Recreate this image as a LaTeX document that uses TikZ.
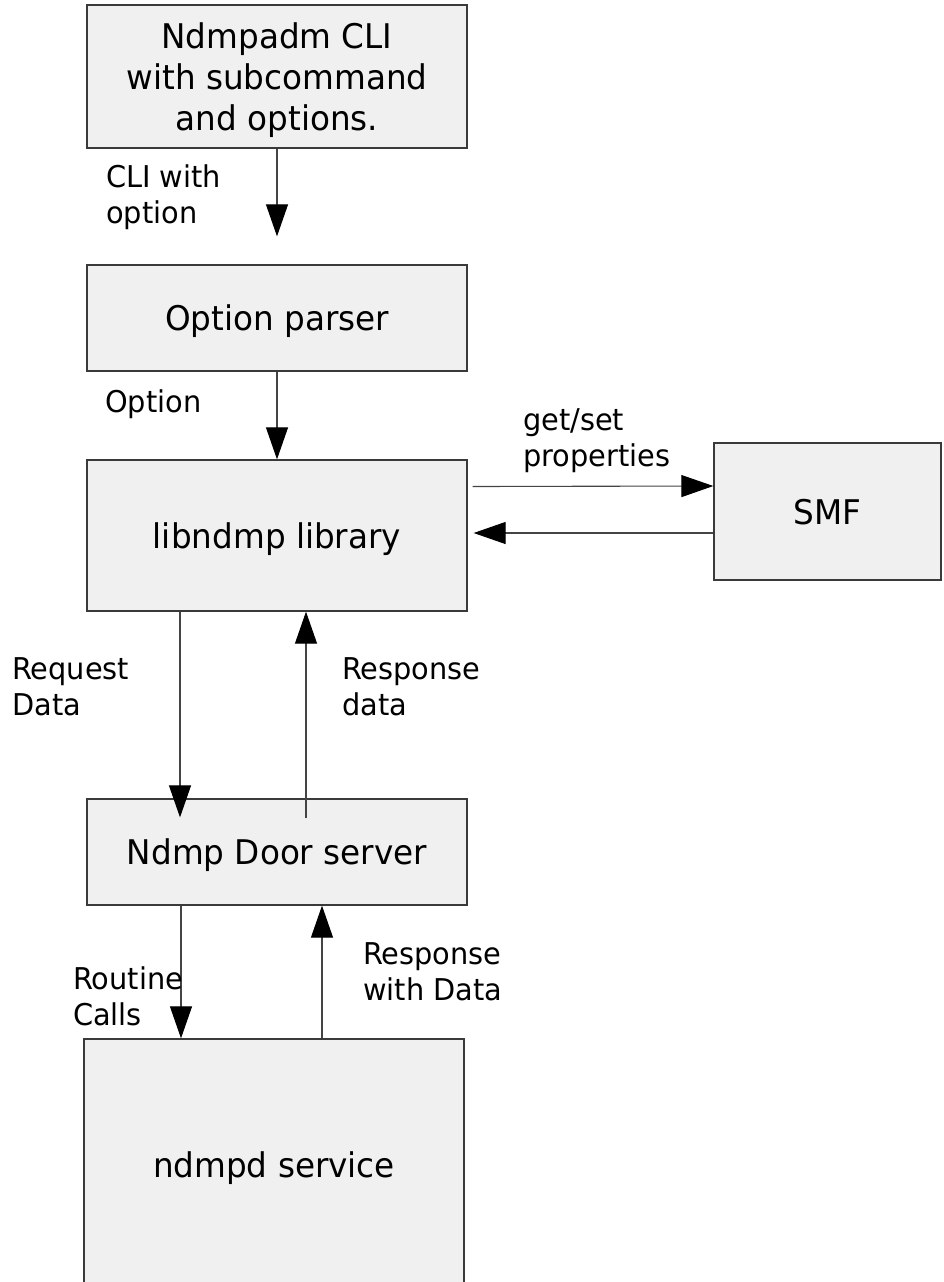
\documentclass[tikz,border=0pt]{standalone}
\usepackage{fontspec}
\setmainfont{DejaVu Sans}[FakeStretch=0.96]
\usetikzlibrary{arrows.meta}

\definecolor{boxFill}{HTML}{F0F0F0}
\definecolor{boxRand}{HTML}{3A3A3A}
\definecolor{pfeilLinie}{HTML}{444444}
\newcommand\Boxschrift{\fontsize{34}{41}\selectfont}
\newcommand\Pfeilschrift{\fontsize{30}{36}\selectfont}

\begin{document}
\begin{tikzpicture}[x=1pt,y=-1pt,
  block/.style={draw=boxRand, fill=boxFill, line width=1.3pt, inner sep=0pt, text depth=0pt, align=center, font=\Boxschrift},
  pfeil/.style={draw=pfeilLinie, line width=1.1pt, -{Triangle[length=32pt,width=22pt,color=black]}},
  beschr/.style={inner sep=0pt, align=left, font=\Pfeilschrift, anchor=base west}]

\useasboundingbox (0,0) rectangle (943,1282);

% Breite der Bloecke
\def \bW {380pt}

% Bloecke zeichnen
\node[block, minimum width=\bW, minimum height=143pt] (cli) at (277,76.5) {Ndmpadm CLI\\with subcommand\\and options.};
\node[block, minimum width=\bW, minimum height=106pt] (parser) at (277,318) {Option parser};
\node[block, minimum width=\bW, minimum height=151pt] (lib) at (277,535.5) {libndmp library};
\node[block, minimum width=227pt, minimum height=137pt] (smf) at (827.5,511.5) {SMF};
\node[block, minimum width=\bW, minimum height=106pt] (door) at (277,852) {Ndmp Door server};
\node[block, minimum width=\bW, minimum height=252pt] (ndmpd) at (274,1165) {ndmpd service};

% Pfeile zwischen Bloecken
\draw[pfeil] (cli.south) -- ([yshift=28pt]parser.north);
\draw[pfeil] (parser.south) -- (lib.north);
\draw[pfeil] ([xshift=5pt,yshift=49pt]lib.east) -- ([yshift=25.5pt]smf.west);
\draw[pfeil] ([yshift=-21.5pt]smf.west) -- ([xshift=6pt,yshift=2.5pt]lib.east);
\draw[pfeil] ([xshift=-97pt]lib.south) -- ([xshift=-97pt,yshift=-19pt]door.north);
\draw[pfeil] ([xshift=29pt,yshift=-20pt]door.north) -- ([xshift=29pt]lib.south);
\draw[pfeil] ([xshift=-96pt]door.south) -- ([xshift=-93pt]ndmpd.north);
\draw[pfeil] ([xshift=48pt]ndmpd.north) -- ([xshift=45pt]door.south);

% Beschriftungen der Pfeile (Grundlinie der letzten Zeile)
\node[beschr] (lCli) at (106,223) {CLI with\\option};
\node[beschr] (lOpt) at (105,412) {Option};
\node[beschr] (lProp) at (523,466) {get/set\\properties};
\node[beschr] (lReq) at (12,715) {Request\\Data};
\node[beschr] (lResp) at (342,715) {Response\\data};
\node[beschr] (lCall) at (73,1025) {Routine\\Calls};
\node[beschr] (lRespD) at (363,1000) {Response\\with Data};

\end{tikzpicture}
\end{document}
